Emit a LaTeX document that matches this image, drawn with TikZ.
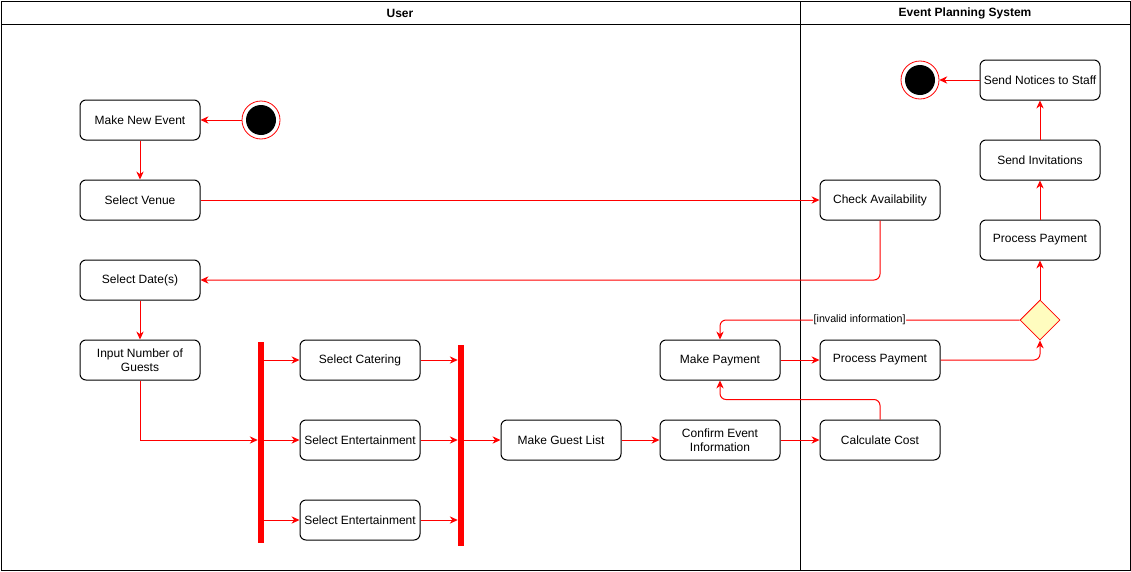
\documentclass[tikz,border=0pt]{standalone}
\usepackage{fontspec}
\setmainfont{Liberation Sans}
\usetikzlibrary{arrows.meta, positioning, calc, shapes.geometric}

\begin{document}
\begin{tikzpicture}[x=0.75pt, y=-0.75pt,
    act/.style={draw, rounded corners=4.5pt, minimum width=90pt, minimum height=30pt, align=center, inner sep=1pt, font=\fontsize{9}{10.5}\selectfont, line width=0.75pt},
    flow/.style={red, line width=0.75pt, -{Stealth[length=6pt,width=5.5pt]}},
    bar/.style={fill=red, draw=none, minimum width=4.5pt, inner sep=0pt},
    lane/.style={font=\bfseries\fontsize{9}{10.5}\selectfont}]
    \useasboundingbox (0,0) rectangle (1131,571);
    % swimlanes
    \draw[line width=0.75pt] (1,1) rectangle (1130,570);
    \draw[line width=0.75pt] (1,24) -- (1130,24);
    \draw[line width=0.75pt] (800,1) -- (800,570);
    \node[lane] (user) at (400,13) {User};
    \node[lane] (eps) at (965,13) {Event Planning System};
    % start / end
    \coordinate (start) at (261,120);
    \draw[red, line width=0.6pt] (start) circle (19);
    \fill (start) circle (15);
    \node[circle, minimum size=28.5pt, inner sep=0pt] (startn) at (start) {};
    \coordinate (stop) at (920,80);
    \draw[red, line width=0.6pt] (stop) circle (19);
    \fill (stop) circle (15);
    \node[circle, minimum size=28.5pt, inner sep=0pt] (stopn) at (stop) {};
    % user lane
    \node[act] (new) at (140,120) {Make New Event};
    \node[act] (venue) at (140,200) {Select Venue};
    \node[act] (date) at (140,280) {Select Date(s)};
    \node[act] (guests) at (140,360) {Input Number of\\Guests};
    \node[bar, minimum height=150.75pt] (fork) at (261,442.5) {};
    \node[act] (cater) at (360,360) {Select Catering};
    \node[act] (ent1) at (360,440) {Select Entertainment};
    \node[act] (ent2) at (360,520) {Select Entertainment};
    \node[bar, minimum height=150.75pt] (join) at (461,445.5) {};
    \node[act] (list) at (561,440) {Make Guest List};
    \node[act] (confirm) at (720,440) {Confirm Event\\Information};
    \node[act] (pay) at (720,360) {Make Payment};
    % system lane
    \node[act] (avail) at (880,200) {Check Availability};
    \node[act] (proc1) at (880,360) {Process Payment};
    \node[act] (cost) at (880,440) {Calculate Cost};
    \node[diamond, draw=red, fill=yellow!25, minimum width=30pt, minimum height=30pt, inner sep=0pt, line width=0.6pt] (dec) at (1040,320) {};
    \node[act] (proc2) at (1040,240) {Process Payment};
    \node[act] (invite) at (1040,160) {Send Invitations};
    \node[act] (notice) at (1040,80) {Send Notices to Staff};
    % flows
    \draw[flow] (startn) -- (new);
    \draw[flow] (new) -- (venue);
    \draw[flow] (venue) -- (avail);
    \draw[flow, rounded corners=4.5pt] (avail.south) |- (date.east);
    \draw[flow] (date) -- (guests);
    \draw[flow] (guests.south) |- (fork.west |- ent1.west);
    \draw[flow] (fork.east |- cater.west) -- (cater.west);
    \draw[flow] (fork.east |- ent1.west) -- (ent1.west);
    \draw[flow] (fork.east |- ent2.west) -- (ent2.west);
    \draw[flow] (cater.east) -- (join.west |- cater.east);
    \draw[flow] (ent1.east) -- (join.west |- ent1.east);
    \draw[flow] (ent2.east) -- (join.west |- ent2.east);
    \draw[flow] (join.east |- list.west) -- (list.west);
    \draw[flow] (list) -- (confirm);
    \draw[flow] (confirm) -- (cost);
    \draw[flow, rounded corners=4.5pt] (cost.north) -- ++(0,-20) -| (pay.south);
    \draw[flow] (pay) -- (proc1);
    \draw[flow, rounded corners=4.5pt] (proc1.east) -| (dec.south);
    \draw[flow] (dec.north) -- (proc2);
    \draw[flow, rounded corners=4.5pt] (dec.west) -| (pay.north)
        node[pos=0.267, fill=white, text=black, inner sep=0.5pt, font=\fontsize{8}{9}\selectfont] (inv) {[invalid information]};
    \draw[flow] (proc2) -- (invite);
    \draw[flow] (invite) -- (notice);
    \draw[flow] (notice) -- (stopn);
\end{tikzpicture}
\end{document}
